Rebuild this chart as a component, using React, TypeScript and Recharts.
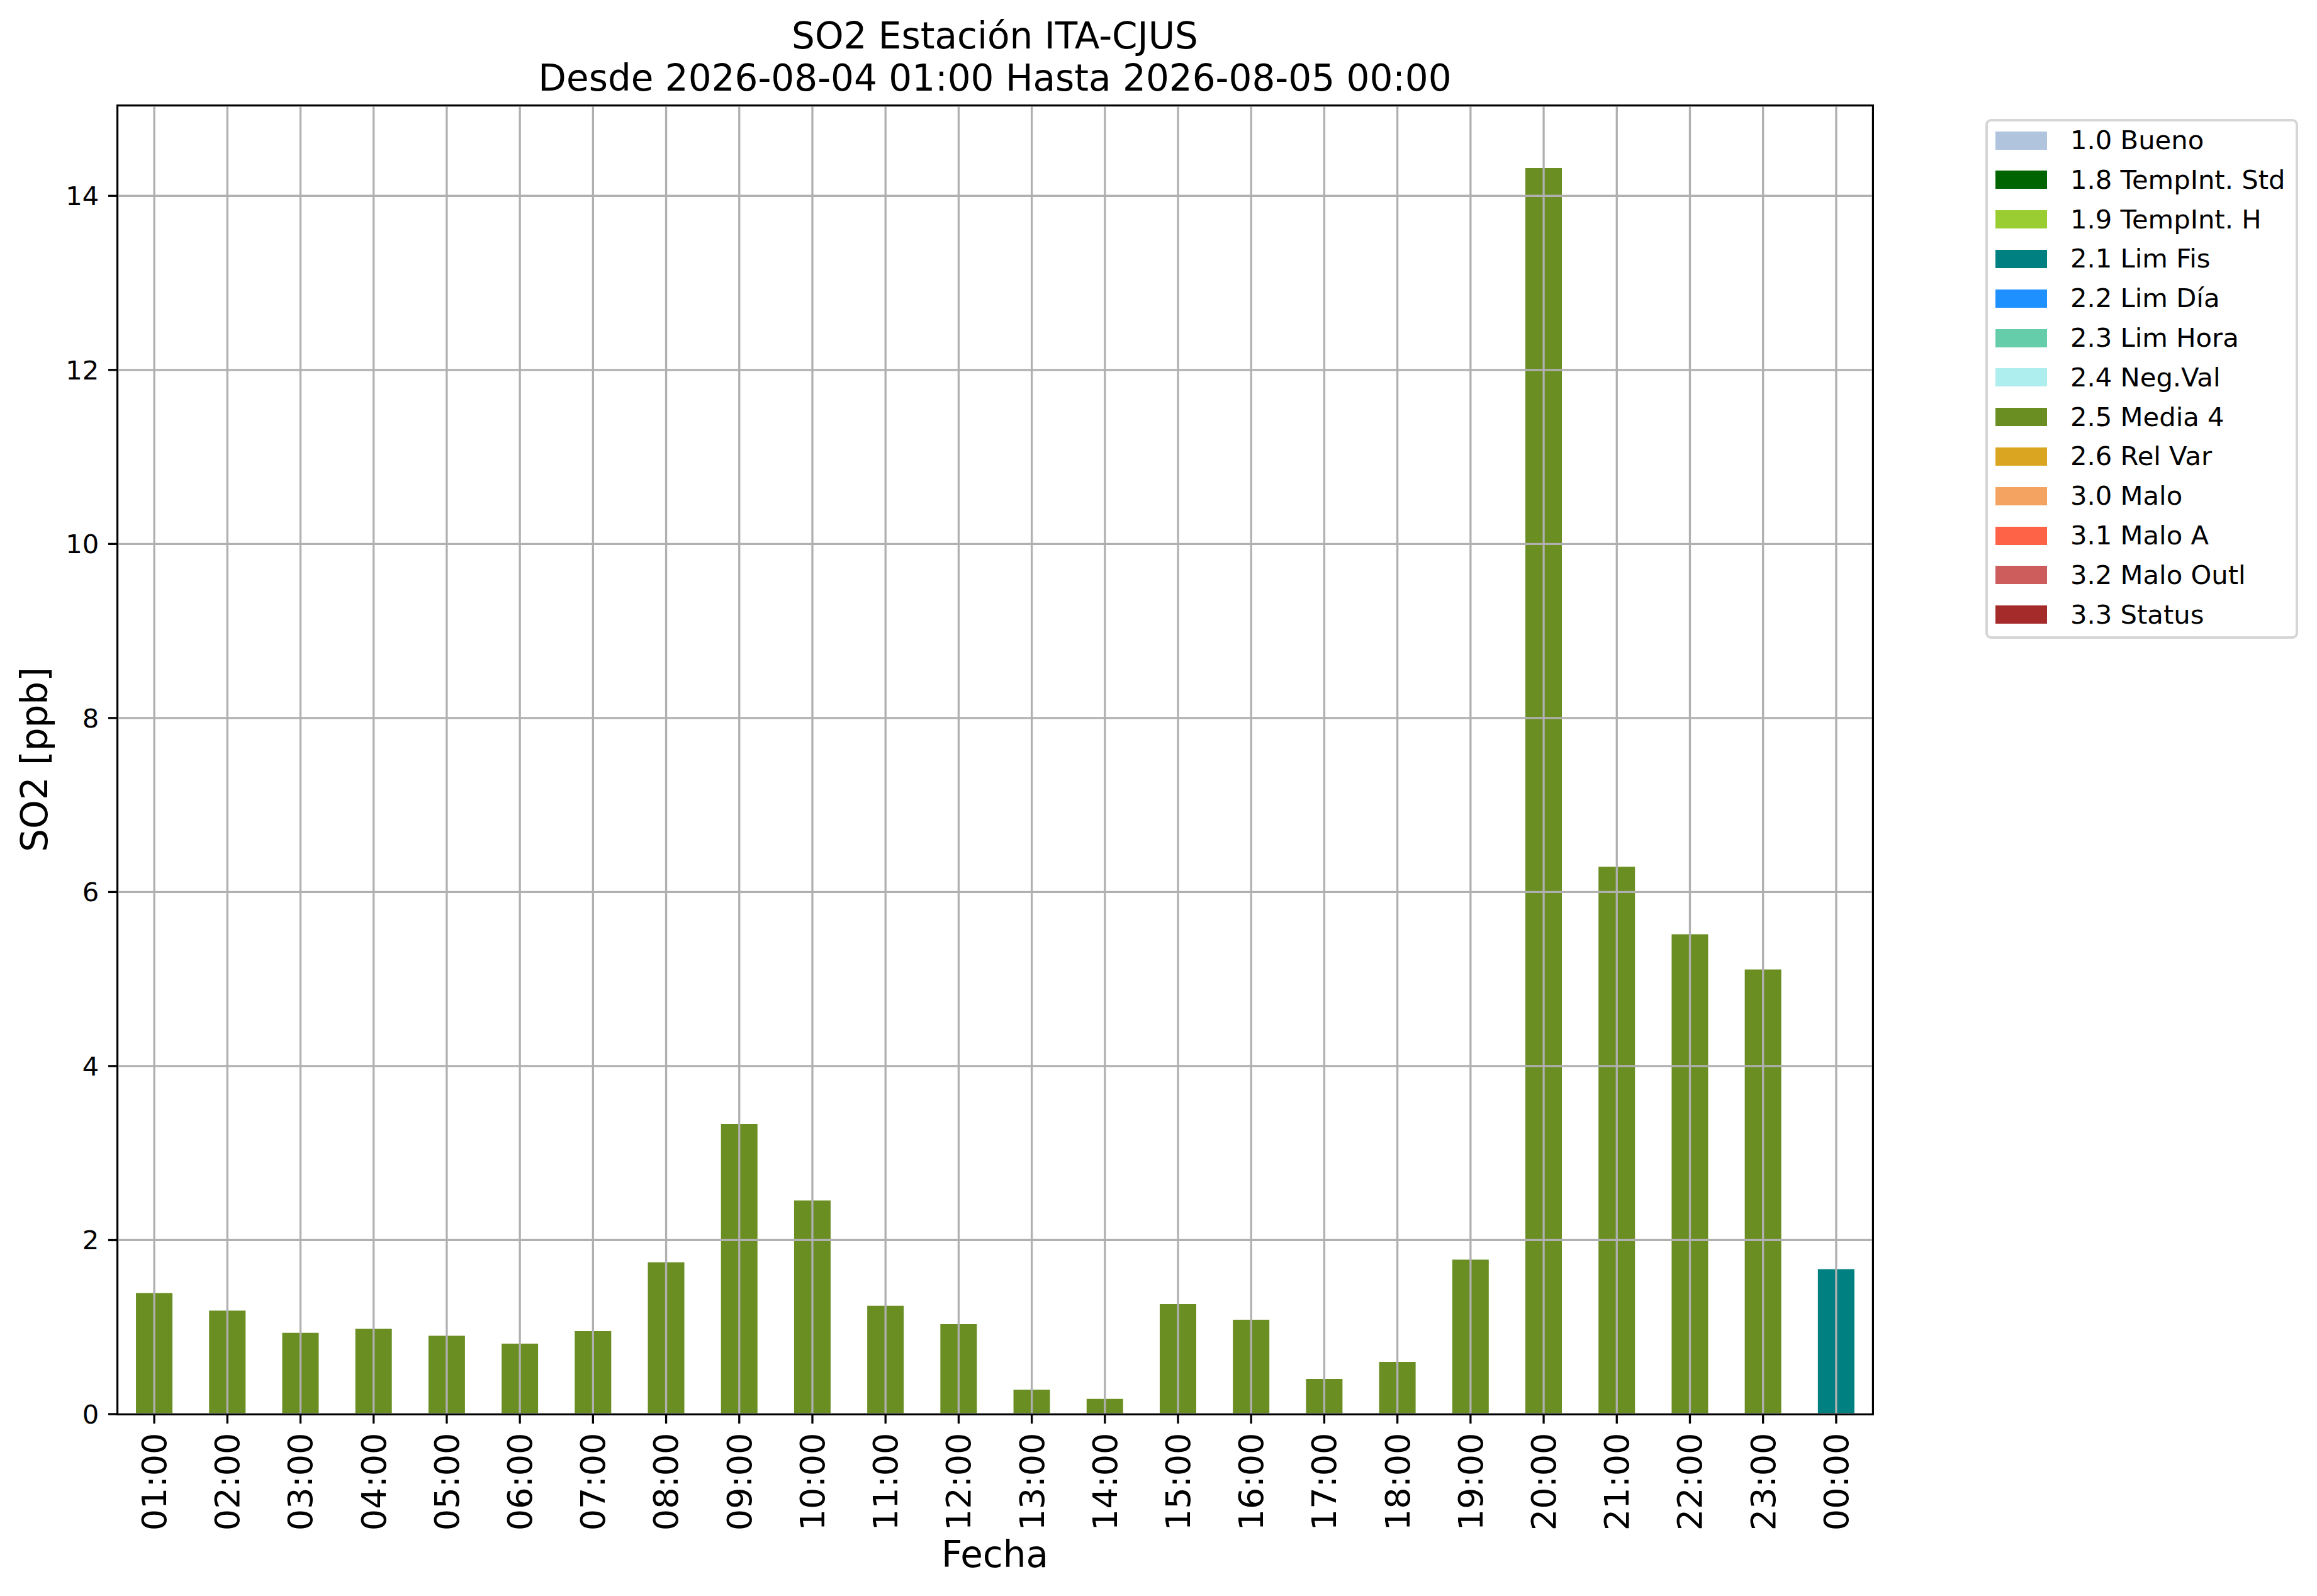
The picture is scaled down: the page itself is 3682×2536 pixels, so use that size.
import { Bar, BarChart, CartesianGrid, XAxis, YAxis } from "recharts";

// Horas del periodo (eje X)
const HOURS = [
  "01:00", "02:00", "03:00", "04:00", "05:00", "06:00", "07:00", "08:00",
  "09:00", "10:00", "11:00", "12:00", "13:00", "14:00", "15:00", "16:00",
  "17:00", "18:00", "19:00", "20:00", "21:00", "22:00", "23:00", "00:00",
];

// SO2 [ppb] por hora
const SO2_VALUES = [
  1.39, 1.19, 0.935, 0.98, 0.9, 0.81, 0.955, 1.745,
  3.335, 2.455, 1.245, 1.035, 0.28, 0.175, 1.265, 1.085,
  0.405, 0.6, 1.775, 14.32, 6.29, 5.515, 5.11, 1.665,
];

// Bandera de validación de cada hora
const HOUR_FLAGS = [
  "2.5", "2.5", "2.5", "2.5", "2.5", "2.5", "2.5", "2.5",
  "2.5", "2.5", "2.5", "2.5", "2.5", "2.5", "2.5", "2.5",
  "2.5", "2.5", "2.5", "2.5", "2.5", "2.5", "2.5", "2.1",
];

const FLAG_CODES = ["1.0", "1.8", "1.9", "2.1", "2.2", "2.3", "2.4", "2.5", "2.6", "3.0", "3.1", "3.2", "3.3"];
const FLAG_LABELS = [
  "1.0 Bueno", "1.8 TempInt. Std", "1.9 TempInt. H", "2.1 Lim Fis", "2.2 Lim Día",
  "2.3 Lim Hora", "2.4 Neg.Val", "2.5 Media 4", "2.6 Rel Var", "3.0 Malo",
  "3.1 Malo A", "3.2 Malo Outl", "3.3 Status",
];
const FLAG_COLORS = [
  "#b0c4de", "#006400", "#9acd32", "#008080", "#1e90ff", "#66cdaa", "#afeeee",
  "#6b8e23", "#daa520", "#f4a460", "#ff6347", "#cd5c5c", "#a52a2a",
];

const Y_TICKS = [0, 2, 4, 6, 8, 10, 12, 14];

const rows = HOURS.map((hour, i) => {
  const row: Record<string, string | number | null> = { hour };
  FLAG_CODES.forEach((code) => {
    row[code] = HOUR_FLAGS[i] === code ? SO2_VALUES[i] : null;
  });
  return row;
});

const W = 3682;
const H = 2536;
const PLOT = { left: 187, top: 168, right: 2976, bottom: 2247 };
const FONT = "'DejaVu Sans', sans-serif";
const yMax = Math.max(...SO2_VALUES) * 1.05;

function HourTick({ x, y, payload }: any) {
  return (
    <text
      x={x}
      y={y}
      transform={`rotate(-90, ${x}, ${y})`}
      textAnchor="end"
      dy="0.35em"
      fontSize={54}
      fontFamily={FONT}
      fill="#000"
    >
      {payload.value}
    </text>
  );
}

export default function App() {
  return (
    <div
      style={{
        position: "absolute",
        left: 0,
        top: 0,
        width: W,
        height: H,
        background: "#fff",
        fontFamily: FONT,
      }}
    >
      <BarChart
        width={W}
        height={H}
        data={rows}
        margin={{ top: PLOT.top, right: W - PLOT.right, bottom: 0, left: 0 }}
        barCategoryGap="25%"
      >
        {FLAG_CODES.map((code, i) => (
          <Bar
            key={code}
            dataKey={code}
            name={FLAG_LABELS[i]}
            stackId="flags"
            fill={FLAG_COLORS[i]}
            isAnimationActive={false}
            zIndex={-50}
          />
        ))}
        {/* la rejilla va encima de las barras, como en matplotlib */}
        <CartesianGrid stroke="#b0b0b0" strokeWidth={3.3} zIndex={50} />
        <XAxis
          dataKey="hour"
          interval={0}
          height={H - PLOT.bottom}
          axisLine={false}
          tickSize={15}
          tickMargin={14.6}
          tickLine={{ stroke: "#000", strokeWidth: 3.3 }}
          tick={<HourTick />}
        />
        <YAxis
          type="number"
          width={PLOT.left}
          domain={[0, yMax]}
          ticks={Y_TICKS}
          axisLine={false}
          tickSize={15}
          tickMargin={14.6}
          tickLine={{ stroke: "#000", strokeWidth: 3.3 }}
          tick={{ fontSize: 41.7, fill: "#000", fontFamily: FONT }}
        />
      </BarChart>

      {/* marco del área de trazado */}
      <div
        style={{
          position: "absolute",
          left: PLOT.left - 1.65,
          top: PLOT.top - 1.65,
          width: PLOT.right - PLOT.left + 3.3,
          height: PLOT.bottom - PLOT.top + 3.3,
          border: "3.3px solid #000",
          boxSizing: "border-box",
          pointerEvents: "none",
        }}
      />

      <svg
        width={W}
        height={H}
        style={{ position: "absolute", left: 0, top: 0, pointerEvents: "none" }}
      >
        <g fontFamily={FONT} fill="#000" fontSize={58}>
          <text x={1581} y={77} textAnchor="middle">SO2 Estación ITA-CJUS</text>
          <text x={1581} y={144} textAnchor="middle">
            Desde 2026-08-04 01:00 Hasta 2026-08-05 00:00
          </text>
          <text x={1581} y={2490} textAnchor="middle">Fecha</text>
          <text x={75} y={1207} textAnchor="middle" transform="rotate(-90, 75, 1207)">
            SO2 [ppb]
          </text>
        </g>
      </svg>

      {/* leyenda */}
      <div
        style={{
          position: "absolute",
          left: 3155,
          top: 189,
          width: 497,
          height: 826,
          border: "4px solid #d6d6d6",
          borderRadius: 9,
          boxSizing: "border-box",
          background: "#fff",
        }}
      >
        {FLAG_LABELS.map((label, i) => {
          const cy = 30 + i * 62.8;
          return (
            <div key={label}>
              <div
                style={{
                  position: "absolute",
                  left: 12,
                  top: cy - 14.5,
                  width: 82,
                  height: 29,
                  background: FLAG_COLORS[i],
                }}
              />
              <div
                style={{
                  position: "absolute",
                  left: 131,
                  top: cy - 25,
                  height: 50,
                  lineHeight: "50px",
                  fontSize: 41.7,
                  whiteSpace: "nowrap",
                  color: "#000",
                }}
              >
                {label}
              </div>
            </div>
          );
        })}
      </div>
    </div>
  );
}
